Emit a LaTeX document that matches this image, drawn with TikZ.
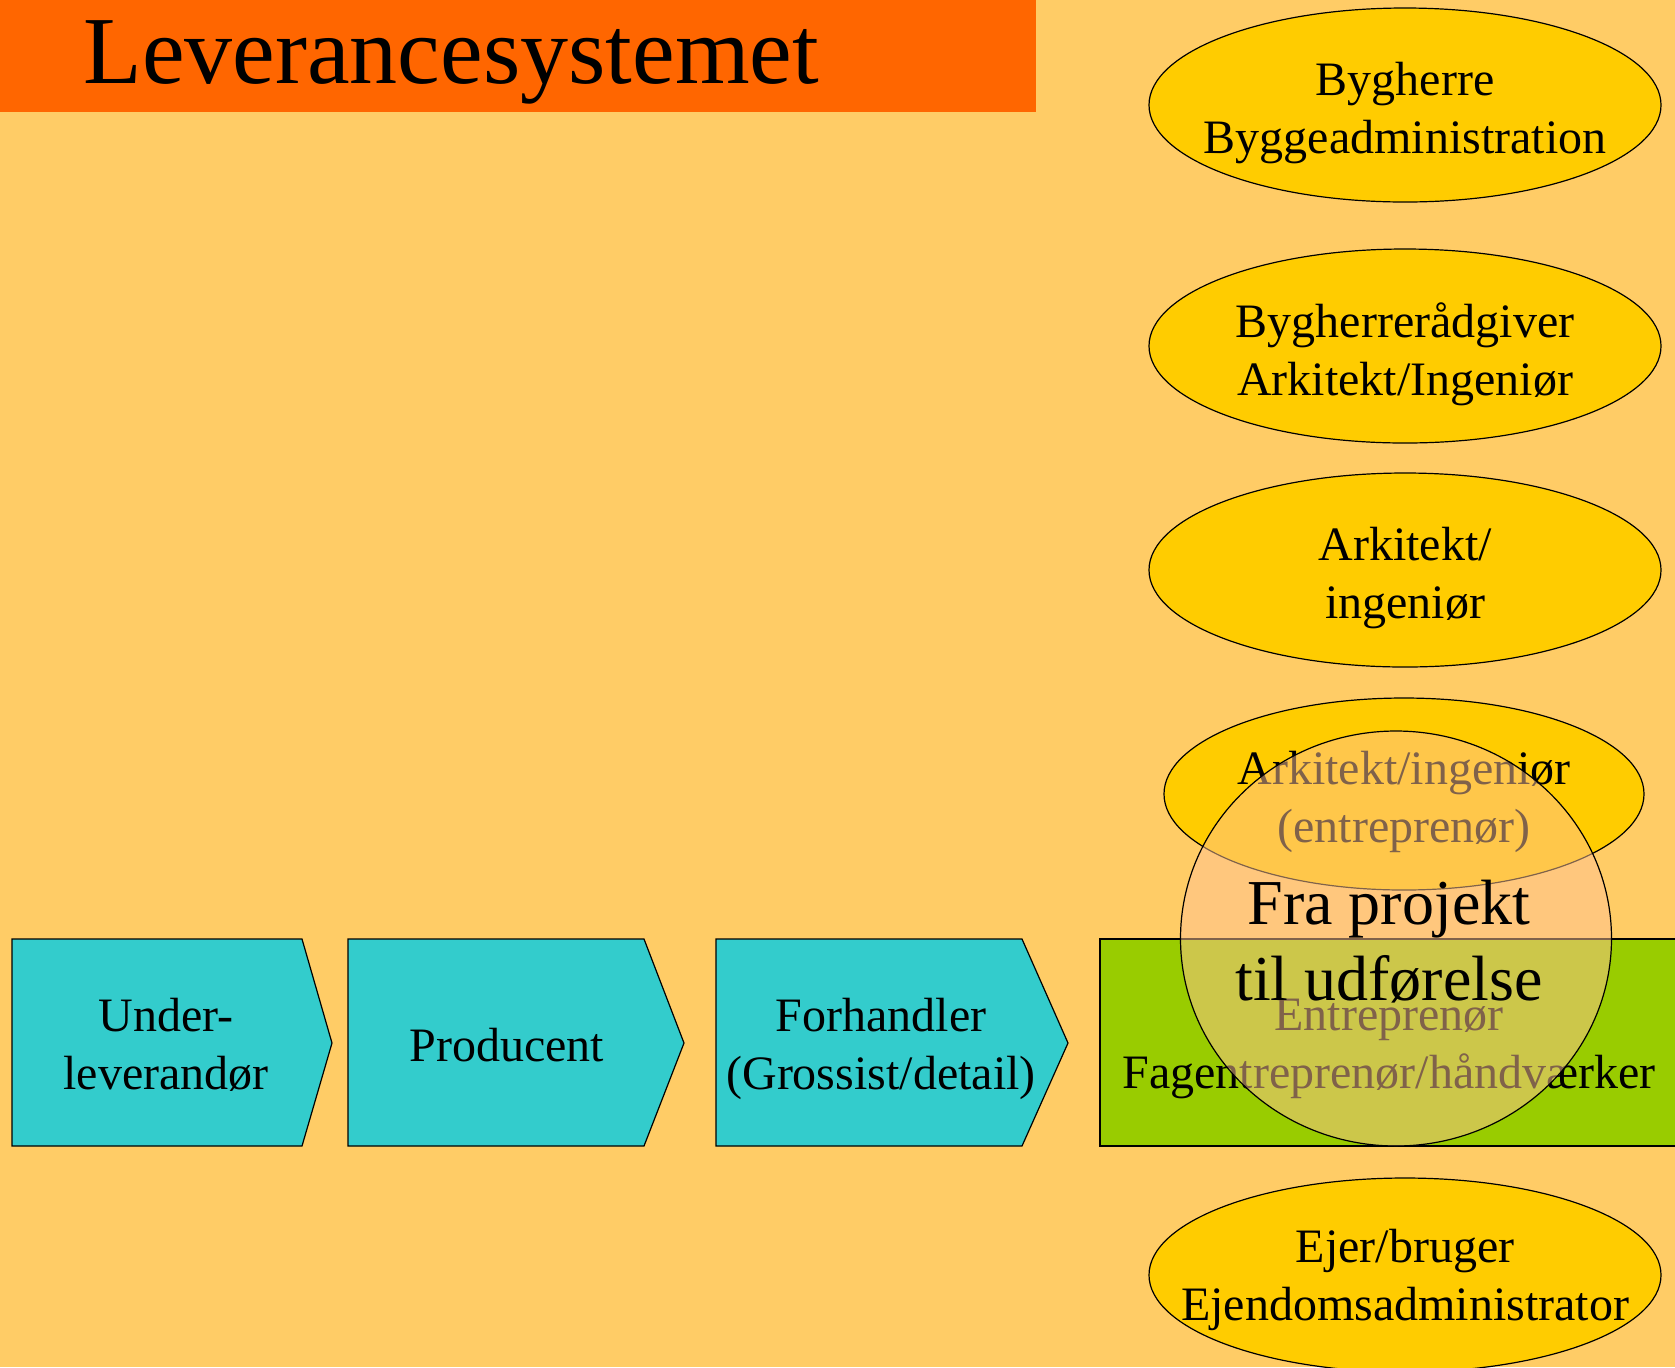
\documentclass[tikz,border=0pt]{standalone}
\usepackage{fontspec}
\setmainfont{Liberation Serif}
\usetikzlibrary{shapes.geometric}
\definecolor{bgc}{HTML}{FFCC66}
\definecolor{titlec}{HTML}{FF6600}
\definecolor{chevc}{HTML}{33CCCC}
\definecolor{greenc}{HTML}{99CC00}
\definecolor{ellc}{HTML}{FFCC00}
\definecolor{circc}{RGB}{255,196,148}
\tikzset{
  ell/.style={ellipse, draw=black, fill=ellc, line width=0.6pt, inner sep=0pt, minimum width=256pt, minimum height=97pt},
  txt/.style={align=center, inner sep=0pt, font=\fontsize{24}{29}\selectfont},
  chevbox/.style={draw=black, fill=chevc, line width=0.6pt},
}
\begin{document}
\begin{tikzpicture}[x=0.5pt, y=-0.5pt]
\useasboundingbox (0,0) rectangle (1675,1367);
\fill[bgc] (0,0) rectangle (1675,1367);
% title
\fill[titlec] (0,0) rectangle (1036,112);
\node[anchor=base west, inner sep=0pt, font=\fontsize{48}{56}\selectfont] (title) at (83,83) {Leverancesystemet};
% ellipses
\node[ell] (e1) at (1405,105) {};
\node[txt] (t1) at (1405,113) {Bygherre\\Byggeadministration};
\node[ell] (e2) at (1405,346) {};
\node[txt] (t2) at (1405,354) {Bygherrerådgiver\\Arkitekt/Ingeniør};
\node[ell] (e3) at (1405,570) {};
\node[txt] (t3) at (1405,578) {Arkitekt/\\ingeniør};
\node[ell, minimum width=240pt, minimum height=96pt] (e4) at (1404,794) {};
\node[txt] (t4) at (1404,802) {Arkitekt/ingeniør\\(entreprenør)};
\node[ell] (e5) at (1405,1275) {};
\node[txt] (t5) at (1405,1280) {Ejer/bruger\\Ejendomsadministrator};
% chevrons
\draw[chevbox] (12,939) -- (302,939) -- (332,1043) -- (302,1146) -- (12,1146) -- cycle;
\node[txt] (c1) at (166,1045) {Under-\\leverandør};
\draw[chevbox] (348,939) -- (644,939) -- (684,1043) -- (644,1146) -- (348,1146) -- cycle;
\node[txt] (c2) at (507,1045) {Producent};
\draw[chevbox] (716,939) -- (1022,939) -- (1068,1043) -- (1022,1146) -- (716,1146) -- cycle;
\node[txt] (c3) at (881,1049) {Forhandler\\(Grossist/detail)};
% green box
\draw[draw=black, fill=greenc, line width=0.6pt] (1100,939) rectangle (1700,1146);
\node[txt] (g1) at (1389,1049) {Entreprenør\\Fagentreprenør/håndværker};
% circle overlay
\node[ellipse, draw=black, line width=0.6pt, fill=circc, fill opacity=0.5, inner sep=0pt, minimum width=215.5pt, minimum height=207.5pt] (circ) at (1396,938.5) {};
\node[align=center, inner sep=0pt, font=\fontsize{32}{38}\selectfont] (fra) at (1389,942) {Fra projekt\\til udførelse};
\end{tikzpicture}
\end{document}
